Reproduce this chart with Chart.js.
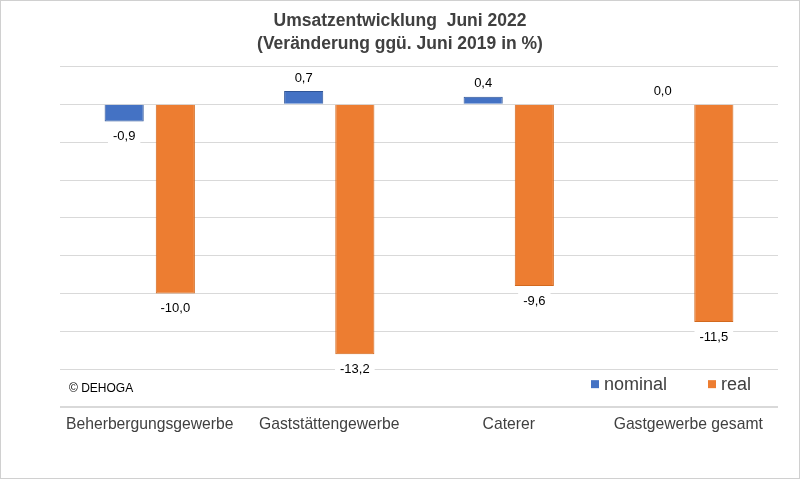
<!DOCTYPE html>
<html>
<head>
<meta charset="utf-8">
<script src="https://cdn.jsdelivr.net/npm/chart.js@4.4.0/dist/chart.umd.min.js"></script>
<style>
  html, body { margin: 0; padding: 0; background: #fff; }
  .frame { width: 798px; height: 477px; border: 1px solid #d0d0d0; }
</style>
</head>
<body>
<div class="frame"><canvas id="umsatzChart" width="798" height="477"></canvas></div>
<script>
// Umsatzentwicklung Juni 2022, Veränderung ggü. Juni 2019 in %
const categories = ['Beherbergungsgewerbe', 'Gaststättengewerbe', 'Caterer', 'Gastgewerbe gesamt'];
const nominalValues = [-0.9, 0.7, 0.4, 0.0];
const realValues = [-10.0, -13.2, -9.6, -11.5];
const seriesNames = ['nominal', 'real'];
const titleLines = ['Umsatzentwicklung  Juni 2022', '(Veränderung ggü. Juni 2019 in %)'];
const sourceNote = '© DEHOGA';

const textColor = '#404040';
const fontFamily = 'Arial, "Liberation Sans", sans-serif';

function formatDe(v) {
    return v.toFixed(1).replace('.', ',');
}

// value labels with white box behind, like the original
const valueLabels = {
    id: 'valueLabels',
    afterDatasetsDraw(chart) {
        const ctx = chart.ctx;
        ctx.save();
        ctx.font = '13px ' + fontFamily;
        ctx.textAlign = 'center';
        ctx.textBaseline = 'middle';
        chart.data.datasets.forEach((ds, i) => {
            chart.getDatasetMeta(i).data.forEach((bar, j) => {
                const v = ds.data[j];
                const txt = formatDe(v);
                const y = v < 0 ? bar.y + 14 : bar.y - 14;
                const w = ctx.measureText(txt).width + 10;
                ctx.fillStyle = '#fff';
                ctx.fillRect(bar.x - w / 2, y - 9, w, 18);
                ctx.fillStyle = '#000';
                ctx.fillText(txt, bar.x, y + 1);
            });
        });
        ctx.restore();
    }
};

// legend and source note inside the plot area
const innerLegend = {
    id: 'innerLegend',
    afterDraw(chart) {
        const ctx = chart.ctx;
        const area = chart.chartArea;
        const y = area.bottom - 23;
        ctx.save();
        ctx.textBaseline = 'middle';
        ctx.font = '12px ' + fontFamily;
        ctx.fillStyle = '#000';
        ctx.fillText(sourceNote, area.left + 9, y + 5);

        ctx.font = '18px ' + fontFamily;
        const starts = [area.left + 531, area.left + 648];
        chart.data.datasets.forEach((ds, i) => {
            ctx.fillStyle = ds.backgroundColor;
            ctx.fillRect(starts[i], y - 4, 8, 8);
            ctx.fillStyle = textColor;
            ctx.fillText(seriesNames[i], starts[i] + 13, y + 1);
        });
        ctx.restore();
    }
};

const ctx = document.getElementById('umsatzChart').getContext('2d');
new Chart(ctx, {
    type: 'bar',
    data: {
        labels: categories,
        datasets: [{
            label: seriesNames[0],
            data: nominalValues,
            backgroundColor: '#4472C4',
            borderColor: '#2F5597',
            borderWidth: 1,
            categoryPercentage: 0.57,
            barPercentage: 0.765
        }, {
            label: seriesNames[1],
            data: realValues,
            backgroundColor: '#ED7D31',
            borderColor: '#D2691E',
            borderWidth: 1,
            categoryPercentage: 0.57,
            barPercentage: 0.765
        }]
    },
    options: {
        responsive: false,
        animation: false,
        layout: {
            padding: { left: 0, right: 0, top: 0, bottom: 44 }
        },
        scales: {
            x: {
                grid: { display: false },
                border: { display: false },
                ticks: {
                    color: textColor,
                    font: { size: 15.7, family: fontFamily },
                    padding: 0,
                    maxRotation: 0
                }
            },
            y: {
                min: -16,
                max: 2,
                ticks: { stepSize: 2, display: false },
                border: { display: false },
                grid: {
                    drawTicks: false,
                    color: '#D9D9D9',
                    lineWidth: c => c.tick && c.tick.value === -16 ? 2 : 1
                },
                afterFit: s => { s.width = 59; }
            },
            // empty right axis, only keeps the right margin so the title stays centred
            yRight: {
                position: 'right',
                min: -16,
                max: 2,
                grid: { display: false },
                border: { display: false },
                ticks: { display: false },
                afterFit: s => { s.width = 21; }
            }
        },
        plugins: {
            legend: { display: false },
            tooltip: { enabled: false },
            title: {
                display: true,
                text: titleLines,
                color: textColor,
                font: { size: 17.5, weight: 'bold', family: fontFamily, lineHeight: 1.3 },
                padding: { top: 9, bottom: 11 }
            }
        }
    },
    plugins: [valueLabels, innerLegend]
});
</script>
</body>
</html>
